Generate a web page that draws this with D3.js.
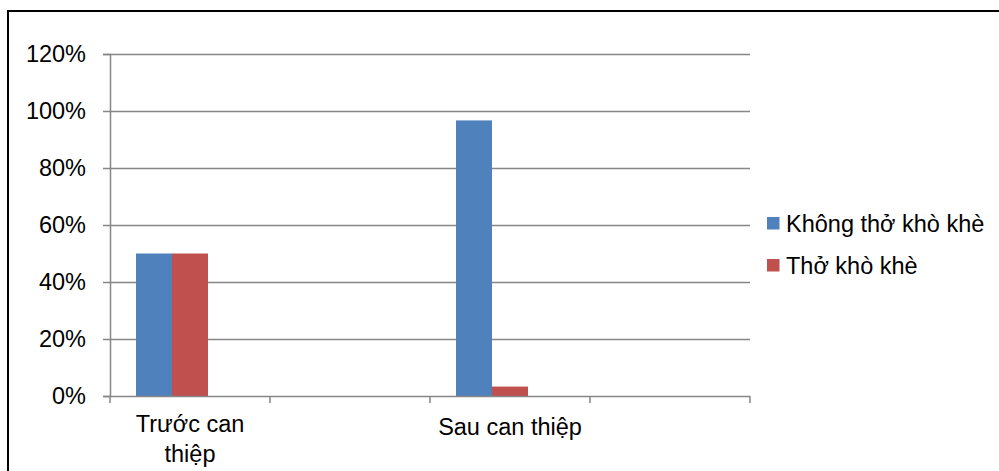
<!DOCTYPE html>
<html>
<head>
<meta charset="utf-8">
<script src="https://cdn.jsdelivr.net/npm/d3@7/dist/d3.min.js"></script>
<style>
  html, body { margin: 0; padding: 0; background: #fff; }
  svg { display: block; font-family: "Liberation Sans", Arial, sans-serif; }
</style>
</head>
<body>
<svg id="chart" width="999" height="471"></svg>
<script>
// Category axis: four slots, the 2nd and 4th are left blank.
const categories = ["Trước can thiệp", "", "Sau can thiệp", ""];
// Series values (share of children)
const khongThoKhoKhe = [0.50, null, 0.967, null];
const thoKhoKhe = [0.50, null, 0.033, null];
const seriesNames = ["Không thở khò khè", "Thở khò khè"];
const seriesColors = ["#4F81BD", "#C0504D"];
// Each cluster reserves a third (unused) slot
const slotsPerCluster = 3;
const yTicks = [0, 0.2, 0.4, 0.6, 0.8, 1.0, 1.2];

const series = [khongThoKhoKhe, thoKhoKhe];
const svg = d3.select("#chart");
const fontSize = 23.5;
const gridColor = "#868686";

// Outer frame
svg.append("rect")
  .attr("x", 8).attr("y", 11)
  .attr("width", 1010).attr("height", 500)
  .attr("fill", "none").attr("stroke", "#000").attr("stroke-width", 2);

const plot = { left: 110, right: 750, top: 54, bottom: 396 };

const x = d3.scaleBand()
  .domain(d3.range(categories.length))
  .range([plot.left, plot.right])
  .padding(0);

const xInner = d3.scaleBand()
  .domain(d3.range(slotsPerCluster))
  .range([0, x.bandwidth()])
  .paddingInner(0)
  .paddingOuter(0.722);

const y = d3.scaleLinear()
  .domain([0, 1.2])
  .range([plot.bottom, plot.top]);

// Horizontal gridlines
svg.append("g")
  .selectAll("line")
  .data(yTicks.filter(t => t > 0))
  .join("line")
  .attr("x1", plot.left).attr("x2", plot.right)
  .attr("y1", d => Math.round(y(d)) + 0.5)
  .attr("y2", d => Math.round(y(d)) + 0.5)
  .attr("stroke", gridColor).attr("stroke-width", 1.5);

// Bars
series.forEach((vals, si) => {
  svg.append("g")
    .selectAll("rect")
    .data(vals.map((v, ci) => ({ v, ci })).filter(d => d.v != null))
    .join("rect")
    .attr("x", d => x(d.ci) + xInner(si))
    .attr("width", xInner.bandwidth())
    .attr("y", d => y(d.v))
    .attr("height", d => y(0) - y(d.v))
    .attr("fill", seriesColors[si]);
});

// Y axis
const yAxis = d3.axisLeft(y)
  .tickValues(yTicks)
  .tickFormat(d3.format(".0%"))
  .tickSize(7)
  .tickPadding(17);
const gy = svg.append("g")
  .attr("transform", `translate(${plot.left},0)`)
  .call(yAxis);
gy.select(".domain").attr("stroke", gridColor).attr("stroke-width", 1.5);
gy.selectAll(".tick line").attr("stroke", gridColor).attr("stroke-width", 1.5);
gy.selectAll(".tick text")
  .attr("font-size", fontSize)
  .attr("font-family", "Liberation Sans, Arial, sans-serif")
  .attr("fill", "#000");

// X axis line with tick marks on the cluster boundaries
const gx = svg.append("g");
gx.append("line")
  .attr("x1", plot.left).attr("x2", plot.right)
  .attr("y1", plot.bottom + 0.5).attr("y2", plot.bottom + 0.5)
  .attr("stroke", gridColor).attr("stroke-width", 1.5);
const boundaries = d3.range(categories.length + 1)
  .map(i => i < categories.length ? x(i) : x(categories.length - 1) + x.bandwidth());
gx.selectAll("line.tick")
  .data(boundaries)
  .join("line")
  .attr("class", "tick")
  .attr("x1", d => d).attr("x2", d => d)
  .attr("y1", plot.bottom).attr("y2", plot.bottom + 7)
  .attr("stroke", gridColor).attr("stroke-width", 1.5);

// Category labels (wrapped where Excel wraps them)
const labelLines = { 0: ["Trước can", "thiệp"], 2: ["Sau can thiệp"] };
const labelBaseline = { 0: 432, 2: 435 };
categories.forEach((c, i) => {
  if (!c) return;
  const t = svg.append("text")
    .attr("text-anchor", "middle")
    .attr("font-size", fontSize)
    .attr("fill", "#000");
  labelLines[i].forEach((ln, k) => {
    t.append("tspan")
      .attr("x", x(i) + x.bandwidth() / 2)
      .attr("y", labelBaseline[i] + k * 30)
      .text(ln);
  });
});

// Legend
const legend = svg.append("g");
seriesNames.forEach((name, i) => {
  const cy = 223.5 + i * 42;
  legend.append("rect")
    .attr("x", 767).attr("y", cy - 6.5)
    .attr("width", 12.5).attr("height", 12.5)
    .attr("fill", seriesColors[i]);
  legend.append("text")
    .attr("x", 786).attr("y", cy + 8)
    .attr("font-size", fontSize)
    .attr("fill", "#000")
    .text(name);
});
</script>
</body>
</html>
